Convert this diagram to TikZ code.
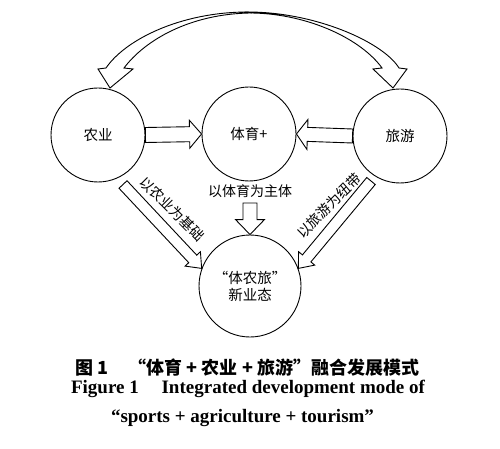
\documentclass[tikz,border=0pt]{standalone}
\usepackage{fontspec}
\setmainfont{Liberation Serif}
\newfontfamily\cjk{Noto Sans CJK SC}
\usetikzlibrary{calc}
\tikzset{
  circ/.style={circle, draw, line width=0.9pt, inner sep=0pt, font=\cjk\fontsize{14.5}{17}\selectfont, align=center},
  blk/.style={draw, line width=0.9pt, line join=miter, fill=white},
  lbl/.style={font=\cjk\fontsize{14}{16}\selectfont, inner sep=0pt},
}
\newcommand\blockarr[5]{%
  \coordinate (hb) at ($(#2)!#5!(#1)$);
  \draw[blk] ($(#1)!#3!90:(#2)$) -- ($(hb)!#3!90:(#2)$) -- ($(hb)!#4!90:(#2)$) -- (#2)
     -- ($(hb)!#4!-90:(#2)$) -- ($(hb)!#3!-90:(#2)$) -- ($(#1)!#3!-90:(#2)$) -- cycle;}
\begin{document}
\begin{tikzpicture}[x=1pt,y=-1pt]
\useasboundingbox (0,0) rectangle (500,449);
% circles
\node[circ, minimum size=94pt] (ag) at (98,135) {农业};
\node[circ, minimum size=94pt] (sp) at (249,134) {体育+};
\node[circ, minimum size=94pt] (tr) at (400,136) {旅游};
\node[circ, minimum size=102pt] (bot) at (250,286) {“体农旅”\\新业态};
% top curved arrows
\draw[blk] (248,12) .. controls (180,12) and (125,40) .. (106,68) -- (98,69) -- (110,88)
  -- (133,69) -- (124,68) .. controls (145,40) and (190,14) .. (250,13) -- cycle;
\draw[blk] (248,12) .. controls (315,12) and (383,42) .. (399,68) -- (407,69) -- (393,88)
  -- (373,69) -- (382,68) .. controls (362,40) and (310,14) .. (252,13) -- cycle;
% horizontal arrows
\blockarr{ag.east}{sp.west}{7.5pt}{14pt}{12pt}
\blockarr{tr.west}{sp.east}{7pt}{15pt}{11pt}
% down arrow
\coordinate (dstart) at (250,203);
\blockarr{dstart}{bot.north}{7pt}{14.5pt}{15pt}
% diagonal arrows
\coordinate (ls) at (123,184.5);
\coordinate (rs) at (371,181);
\blockarr{ls}{bot.160}{5.5pt}{10.5pt}{13pt}
\blockarr{rs}{bot.20}{5.5pt}{10.5pt}{13pt}
% labels
\node[lbl, rotate=-45] (l1) at (172,209) {以农业为基础};
\node[lbl, rotate=45] (l2) at (329,206) {以旅游为纽带};
\node[lbl] (l3) at (250,191) {以体育为主体};
% caption
\node[font=\cjk\bfseries\fontsize{18}{20}\selectfont, anchor=base, inner sep=0pt] (c1) at (247.5,374)
  {图 1\hspace{1.1em}“体育 + 农业 + 旅游”融合发展模式};
\node[font=\bfseries\fontsize{19}{21}\selectfont, anchor=base, inner sep=0pt] (c2) at (248,393)
  {Figure 1\hspace{1.2em}Integrated development mode of};
\node[font=\bfseries\fontsize{19}{21}\selectfont, anchor=base, inner sep=0pt] (c3) at (242.5,422)
  {“sports + agriculture + tourism”};
\end{tikzpicture}
\end{document}
